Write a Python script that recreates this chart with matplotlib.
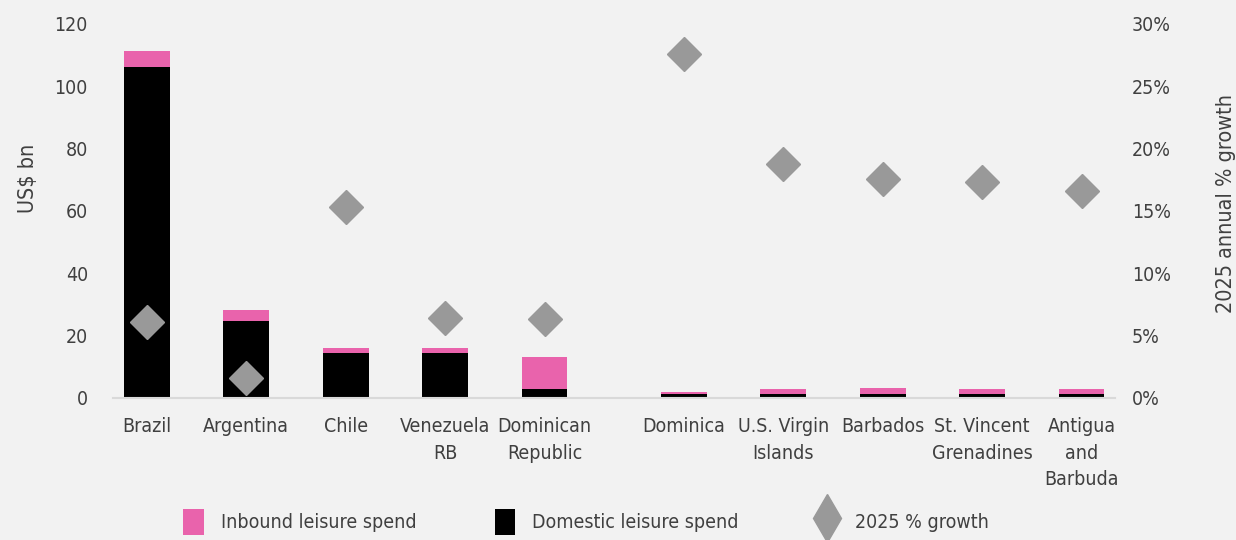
import matplotlib
matplotlib.use('Agg')
import matplotlib.pyplot as plt
from matplotlib.patches import Patch
from matplotlib.lines import Line2D
from matplotlib.ticker import FuncFormatter

plt.rcParams['font.family'] = ['DejaVu Sans']
plt.rcParams['font.stretch'] = 'condensed'

# data
countries = ['Brazil', 'Argentina', 'Chile', 'Venezuela\nRB', 'Dominican\nRepublic',
             'Dominica', 'U.S. Virgin\nIslands', 'Barbados', 'St. Vincent\nGrenadines',
             'Antigua\nand\nBarbuda']
domestic = [106.1, 24.7, 14.4, 14.4, 2.8, 1.4, 1.4, 1.4, 1.4, 1.4]
inbound = [5.2, 3.5, 1.6, 1.6, 10.3, 0.5, 1.5, 1.8, 1.5, 1.5]
growth = [6.1, 1.6, 15.3, 6.4, 6.3, 27.6, 18.8, 17.6, 17.3, 16.6]
positions = [0, 1, 2, 3, 4, 5.4, 6.4, 7.4, 8.4, 9.4]

bg = '#f2f2f2'
pink = '#e963ac'
grey = '#999999'
txt = '#404040'

fig = plt.figure(figsize=(12.36, 5.4), dpi=100, facecolor=bg)
ax = fig.add_axes([0.0914, 0.263, 0.811, 0.6926])
ax.set_facecolor(bg)

ax.bar(positions, domestic, width=0.46, color='black', zorder=2)
ax.bar(positions, inbound, bottom=domestic, width=0.46, color=pink, zorder=2)

ax.set_ylim(0, 120)
ax.set_xlim(-0.34, 9.74)
ax.set_yticks(range(0, 121, 20))
ax.set_xticks(positions)
ax.set_xticklabels(countries, linespacing=1.5)
ax.tick_params(axis='both', length=0, labelsize=14, colors=txt)
ax.tick_params(axis='y', pad=18)
ax.tick_params(axis='x', pad=14)
ax.set_ylabel('US$ bn', fontsize=15.5, color=txt)
ax.yaxis.set_label_coords(-0.075, 0.588)
for s in ['top', 'right', 'left']:
    ax.spines[s].set_visible(False)
ax.spines['bottom'].set_color('#d9d9d9')
ax.spines['bottom'].set_linewidth(1.5)

ax2 = ax.twinx()
ax2.plot(positions, growth, linestyle='none', marker='D', markersize=17,
         color=grey, zorder=3)
ax2.set_ylim(0, 30)
ax2.set_yticks(range(0, 31, 5))
ax2.yaxis.set_major_formatter(FuncFormatter(lambda v, p: f'{v:.0f}%'))
ax2.tick_params(axis='y', length=0, labelsize=14, colors=txt, pad=12)
ax2.set_ylabel('2025 annual % growth', fontsize=15.5, color=txt)
ax2.yaxis.set_label_coords(1.1, 0.52)
for s in ax2.spines.values():
    s.set_visible(False)

handles = [Patch(facecolor=pink, label='Inbound leisure spend'),
           Patch(facecolor='black', label='Domestic leisure spend'),
           Line2D([], [], linestyle='none', marker='d', markersize=24, color=grey,
                  label='2025 % growth')]
fig.legend(handles=handles, loc='lower center', bbox_to_anchor=(0.474, -0.024), ncol=3,
           frameon=False, fontsize=14, labelcolor=txt, handlelength=1.05,
           handleheight=1.75, columnspacing=4.0, handletextpad=0.9)

fig.savefig('out.png', dpi=100, facecolor=bg)
